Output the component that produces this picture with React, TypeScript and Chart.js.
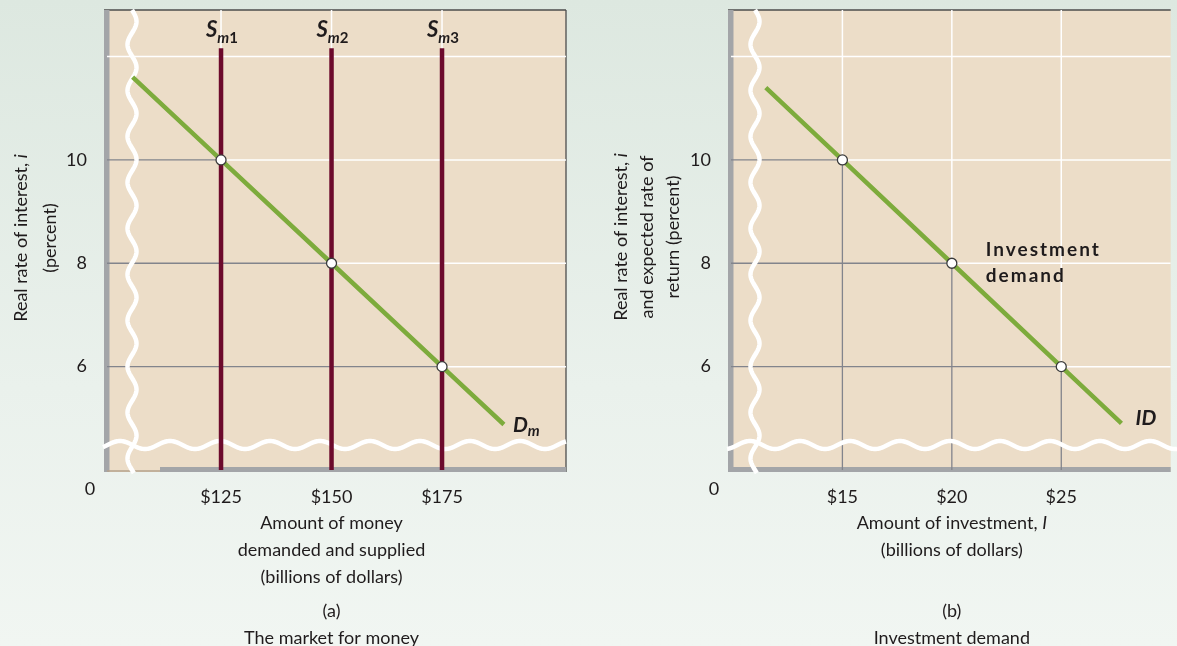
import React, { useEffect, useRef } from "react";
import { Chart, registerables } from "chart.js";

Chart.register(...registerables);

const W = 1177;
const H = 646;
const PLOT_TOP = 10;
const PLOT_BOTTOM = 470;

// ---- shared axis values
const yTicks = [6, 8, 10];
const yRange = [4, 12.9];
const topGrid = 12;

// ---- panel (a): market for money
const moneySupply = [125, 150, 175];
const supplyNames = ["1", "2", "3"];
const supplyTop = 12.16;
const moneyDemandQ = [105, 125, 150, 175, 189];
const moneyDemandR = [11.6, 10, 8, 6, 4.88];
const equilibriumRates = [10, 8, 6];
const xTicksA = [125, 150, 175];
const xRangeA = [99.2, 203.05];

// ---- panel (b): investment demand
const investQ = [11.5, 15, 20, 25, 27.75];
const investR = [11.4, 10, 8, 6, 4.9];
const investPointsQ = [15, 20, 25];
const investPointsR = [10, 8, 6];
const xTicksB = [15, 20, 25];
const xRangeB = [9.91, 30];

// ---- styles
const FAMILY = "Lato, 'Open Sans', sans-serif";
const TEXT = "#1f1b1c";
const BEIGE = "#ecddc8";
const GREEN = "#7dab3c";
const MAROON = "#6c0a2c";
const GRID_GRAY = "#82848c";
const AXIS_GRAY = "#a3a5a8";
const FS = 18;

const f = (size: number, weight = "normal", style = "normal") =>
  `${style} ${weight} ${size}px ${FAMILY}`;

type Part = { t: string; f: string };

function drawParts(ctx: CanvasRenderingContext2D, parts: Part[], x: number, y: number, align: string) {
  let total = 0;
  const ws = parts.map((p) => {
    ctx.font = p.f;
    const w = ctx.measureText(p.t).width;
    total += w;
    return w;
  });
  let cx = align === "center" ? x - total / 2 : align === "right" ? x - total : x;
  ctx.textAlign = "left";
  parts.forEach((p, i) => {
    ctx.font = p.f;
    ctx.fillText(p.t, cx, y);
    cx += ws[i];
  });
}

function seg(pts: { x: number; y: number }[], color: string, width: number, order: number, isGrid = false) {
  return {
    type: "line",
    data: pts,
    borderColor: color,
    borderWidth: width,
    pointRadius: 0,
    pointHoverRadius: 0,
    fill: false,
    tension: 0,
    borderCapStyle: "butt",
    order,
    isGrid,
  } as any;
}

function pointsDs(xs: number[], ys: number[]) {
  return {
    type: "line",
    data: xs.map((x, i) => ({ x, y: ys[i] })),
    showLine: false,
    pointRadius: 5,
    pointHoverRadius: 5,
    pointBackgroundColor: "#ffffff",
    pointBorderColor: "#3a3a3a",
    pointBorderWidth: 1.3,
    order: 0,
  } as any;
}

function makeScales(xRange: number[], xTicks: number[], yAxisWidth: number) {
  return {
    x: {
      type: "linear",
      min: xRange[0],
      max: xRange[1],
      grid: { display: false },
      border: { display: false },
      afterBuildTicks: (s: any) => {
        s.ticks = xTicks.map((v) => ({ value: v }));
      },
      afterFit: (s: any) => {
        s.height = H - PLOT_BOTTOM;
        s.paddingLeft = 0;
        s.paddingRight = 0;
        s.paddingTop = 0;
        s.paddingBottom = 0;
      },
      ticks: {
        callback: (v: any) => "$" + v,
        color: TEXT,
        font: { family: FAMILY, size: FS },
        padding: 8,
        maxRotation: 0,
        autoSkip: false,
      },
    },
    y: {
      type: "linear",
      min: yRange[0],
      max: yRange[1],
      grid: { display: false },
      border: { display: false },
      afterBuildTicks: (s: any) => {
        s.ticks = yTicks.map((v) => ({ value: v }));
      },
      afterFit: (s: any) => {
        s.width = yAxisWidth;
        s.paddingLeft = 0;
        s.paddingRight = 0;
        s.paddingTop = 0;
        s.paddingBottom = 0;
      },
      ticks: {
        callback: (v: any) => String(v),
        color: TEXT,
        font: { family: FAMILY, size: FS },
        padding: 12,
        autoSkip: false,
      },
    },
  } as any;
}

function drawWaves(ctx: CanvasRenderingContext2D, ca: any, vx: number, hx0: number, hx1: number, hPhase: number) {
  ctx.save();
  ctx.strokeStyle = "#ffffff";
  ctx.lineWidth = 4.5;
  ctx.lineCap = "butt";
  // horizontal break
  const hy = ca.bottom - 25;
  ctx.beginPath();
  for (let x = hx0; x <= hx1; x += 1) {
    const y = hy - 4 * Math.cos(((x - hPhase) / 50) * Math.PI * 2);
    if (x === hx0) ctx.moveTo(x, y);
    else ctx.lineTo(x, y);
  }
  ctx.stroke();
  // vertical break
  ctx.beginPath();
  for (let y = ca.top; y <= ca.bottom + 3; y += 1) {
    const x = vx + 4.5 * Math.sin(((y - ca.top) / 46) * Math.PI * 2);
    if (y === ca.top) ctx.moveTo(x, y);
    else ctx.lineTo(x, y);
  }
  ctx.stroke();
  ctx.restore();
}

function framePlugin(panel: "a" | "b") {
  return {
    id: "frame" + panel,
    beforeDraw(chart: any) {
      const { ctx, chartArea: ca } = chart;
      ctx.save();
      ctx.fillStyle = BEIGE;
      ctx.fillRect(ca.left, ca.top, ca.right - ca.left, ca.bottom - ca.top + 2);
      ctx.restore();
      chart.$wavesDone = false;
    },
    beforeDatasetsDraw(chart: any) {
      const { ctx, chartArea: ca } = chart;
      ctx.save();
      // top border
      ctx.strokeStyle = "#4d4d4d";
      ctx.lineWidth = 1.3;
      ctx.beginPath();
      ctx.moveTo(ca.left - 3, ca.top);
      ctx.lineTo(ca.right, ca.top);
      ctx.stroke();
      if (panel === "a") {
        ctx.beginPath();
        ctx.moveTo(ca.right, ca.top);
        ctx.lineTo(ca.right, ca.bottom + 2);
        ctx.stroke();
      }
      // left axis bar
      ctx.fillStyle = AXIS_GRAY;
      ctx.fillRect(ca.left - 3, ca.top, 5.5, ca.bottom - ca.top + 2);
      // bottom axis bar
      if (panel === "a") {
        ctx.fillRect(160, ca.bottom - 3, ca.right - 160, 5);
        ctx.strokeStyle = "#b5a28c";
        ctx.lineWidth = 1.5;
        ctx.beginPath();
        ctx.moveTo(ca.left, ca.bottom + 1);
        ctx.lineTo(160, ca.bottom + 1);
        ctx.stroke();
      } else {
        ctx.fillRect(ca.left - 3, ca.bottom - 3, ca.right - ca.left + 3, 5);
      }
      ctx.restore();
    },
    beforeDatasetDraw(chart: any, args: any) {
      const ds = chart.data.datasets[args.index];
      if (!ds.isGrid && !chart.$wavesDone) {
        chart.$wavesDone = true;
        const ca = chart.chartArea;
        if (panel === "a") drawWaves(chart.ctx, ca, ca.left + 25, ca.left - 4, ca.right, 120);
        else drawWaves(chart.ctx, ca, ca.left + 24, ca.left - 4, W, 1050);
      }
    },
    afterDraw(chart: any) {
      const { ctx, chartArea: ca, scales } = chart;
      const xs = scales.x;
      const ys = scales.y;
      ctx.save();
      ctx.fillStyle = TEXT;
      ctx.textBaseline = "middle";
      const reg = f(FS);
      const ital = f(FS, "normal", "italic");
      // origin label
      drawParts(ctx, [{ t: "0", f: reg }], ca.left - 17, ca.bottom + 19, "center");
      if (panel === "a") {
        const cx = xs.getPixelForValue(150);
        drawParts(ctx, [{ t: "Amount of money", f: reg }], cx, 523, "center");
        drawParts(ctx, [{ t: "demanded and supplied", f: reg }], cx, 550, "center");
        drawParts(ctx, [{ t: "(billions of dollars)", f: reg }], cx, 577, "center");
        drawParts(ctx, [{ t: "(a)", f: reg }], cx, 611, "center");
        drawParts(ctx, [{ t: "The market for money", f: reg }], cx, 638, "center");
        // y title
        ctx.save();
        ctx.translate(21, 238);
        ctx.rotate(-Math.PI / 2);
        drawParts(ctx, [{ t: "Real rate of interest, ", f: reg }, { t: "i", f: ital }], 0, 0, "center");
        ctx.restore();
        ctx.save();
        ctx.translate(50, 238);
        ctx.rotate(-Math.PI / 2);
        drawParts(ctx, [{ t: "(percent)", f: reg }], 0, 0, "center");
        ctx.restore();
        // supply labels
        ctx.textBaseline = "alphabetic";
        moneySupply.forEach((q, i) => {
          const px = xs.getPixelForValue(q);
          const top = ys.getPixelForValue(supplyTop);
          ctx.font = f(22, "bold", "italic");
          ctx.textAlign = "left";
          ctx.fillText("S", px - 15, top - 11);
          const sw = ctx.measureText("S").width;
          drawParts(
            ctx,
            [
              { t: "m", f: f(15, "bold", "italic") },
              { t: supplyNames[i], f: f(15, "bold") },
            ],
            px - 15 + sw,
            top - 5,
            "left"
          );
        });
        // demand label
        const ex = xs.getPixelForValue(moneyDemandQ[moneyDemandQ.length - 1]);
        const ey = ys.getPixelForValue(moneyDemandR[moneyDemandR.length - 1]);
        ctx.font = f(21, "bold", "italic");
        ctx.fillText("D", ex + 9, ey + 7);
        const dw = ctx.measureText("D").width;
        ctx.font = f(15, "bold", "italic");
        ctx.fillText("m", ex + 9 + dw, ey + 11);
      } else {
        const cx = xs.getPixelForValue(20);
        drawParts(ctx, [{ t: "Amount of investment, ", f: reg }, { t: "I", f: ital }], cx, 523, "center");
        drawParts(ctx, [{ t: "(billions of dollars)", f: reg }], cx, 550, "center");
        drawParts(ctx, [{ t: "(b)", f: reg }], cx, 611, "center");
        drawParts(ctx, [{ t: "Investment demand", f: reg }], cx, 638, "center");
        const lines: Part[][] = [
          [{ t: "Real rate of interest, ", f: reg }, { t: "i", f: ital }],
          [{ t: "and expected rate of", f: reg }],
          [{ t: "return (percent)", f: reg }],
        ];
        lines.forEach((parts, i) => {
          ctx.save();
          ctx.translate(621 + i * 26, 237);
          ctx.rotate(-Math.PI / 2);
          drawParts(ctx, parts, 0, 0, "center");
          ctx.restore();
        });
        // curve labels
        const px = xs.getPixelForValue(20);
        const py = ys.getPixelForValue(8);
        ctx.save();
        (ctx as any).letterSpacing = "2px";
        drawParts(ctx, [{ t: "Investment", f: f(19, "bold") }], px + 34, py - 13, "left");
        drawParts(ctx, [{ t: "demand", f: f(19, "bold") }], px + 34, py + 13, "left");
        ctx.restore();
        const ex = xs.getPixelForValue(investQ[investQ.length - 1]);
        const ey = ys.getPixelForValue(investR[investR.length - 1]);
        drawParts(ctx, [{ t: "ID", f: f(21, "bold", "italic") }], ex + 14, ey - 5, "left");
      }
      ctx.restore();
    },
  };
}

function configA(): any {
  const [xmin, xmax] = xRangeA;
  const [ymin, ymax] = yRange;
  const ds: any[] = [];
  ds.push(seg([{ x: xmin, y: topGrid }, { x: xmax, y: topGrid }], "#ffffff", 1.5, 10, true));
  equilibriumRates.forEach((r, i) => {
    const q = moneySupply[i];
    ds.push(seg([{ x: xmin, y: r }, { x: q, y: r }], GRID_GRAY, 1.3, 10, true));
    ds.push(seg([{ x: q, y: r }, { x: xmax, y: r }], "#ffffff", 1.5, 10, true));
  });
  moneySupply.forEach((q) => {
    ds.push(seg([{ x: q, y: ymin }, { x: q, y: ymax }], "#ffffff", 1.5, 10, true));
  });
  moneySupply.forEach((q) => {
    ds.push(seg([{ x: q, y: ymin }, { x: q, y: supplyTop }], MAROON, 4.5, 3));
  });
  ds.push(seg(moneyDemandQ.map((x, i) => ({ x, y: moneyDemandR[i] })), GREEN, 4.5, 2));
  ds.push(pointsDs(moneySupply, equilibriumRates));
  return {
    type: "line",
    data: { datasets: ds },
    options: {
      responsive: false,
      animation: false,
      devicePixelRatio: 1,
      events: [],
      layout: { padding: { left: 0, top: PLOT_TOP, right: W - 566, bottom: 0 } },
      plugins: { legend: { display: false }, tooltip: { enabled: false } },
      scales: makeScales(xRangeA, xTicksA, 107),
    },
    plugins: [framePlugin("a")],
  };
}

function configB(): any {
  const [xmin, xmax] = xRangeB;
  const [ymin, ymax] = yRange;
  const ds: any[] = [];
  ds.push(seg([{ x: xmin, y: topGrid }, { x: xmax, y: topGrid }], "#ffffff", 1.5, 10, true));
  investPointsR.forEach((r, i) => {
    const q = investPointsQ[i];
    ds.push(seg([{ x: xmin, y: r }, { x: q, y: r }], GRID_GRAY, 1.3, 10, true));
    ds.push(seg([{ x: q, y: r }, { x: xmax, y: r }], "#ffffff", 1.5, 10, true));
    ds.push(seg([{ x: q, y: ymin }, { x: q, y: r }], GRID_GRAY, 1.3, 10, true));
    ds.push(seg([{ x: q, y: r }, { x: q, y: ymax }], "#ffffff", 1.5, 10, true));
  });
  ds.push(seg(investQ.map((x, i) => ({ x, y: investR[i] })), GREEN, 4.5, 2));
  ds.push(pointsDs(investPointsQ, investPointsR));
  return {
    type: "line",
    data: { datasets: ds },
    options: {
      responsive: false,
      animation: false,
      devicePixelRatio: 1,
      events: [],
      layout: { padding: { left: 0, top: PLOT_TOP, right: 0, bottom: 0 } },
      plugins: { legend: { display: false }, tooltip: { enabled: false } },
      scales: makeScales(xRangeB, xTicksB, 731),
    },
    plugins: [framePlugin("b")],
  };
}

export default function App() {
  const refA = useRef<HTMLCanvasElement>(null);
  const refB = useRef<HTMLCanvasElement>(null);
  useEffect(() => {
    document.body.style.margin = "0";
    const a = new Chart(refA.current as HTMLCanvasElement, configA());
    const b = new Chart(refB.current as HTMLCanvasElement, configB());
    return () => {
      a.destroy();
      b.destroy();
    };
  }, []);
  return (
    <div
      style={{
        position: "relative",
        width: W,
        height: H,
        overflow: "hidden",
        background: "linear-gradient(180deg, #dde8e0 0%, #eaf1ec 60%, #f1f6f2 100%)",
      }}
    >
      <canvas ref={refA} width={W} height={H} style={{ position: "absolute", left: 0, top: 0 }} />
      <canvas ref={refB} width={W} height={H} style={{ position: "absolute", left: 0, top: 0 }} />
    </div>
  );
}
